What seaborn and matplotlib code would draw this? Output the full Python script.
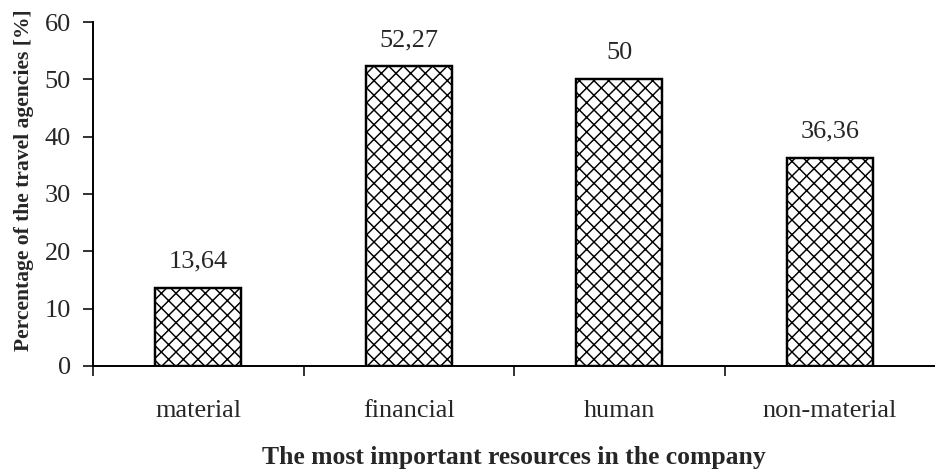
import matplotlib
matplotlib.use("Agg")
import matplotlib.pyplot as plt
import seaborn as sns
import pandas as pd
from matplotlib.ticker import FixedLocator

# ── DATA ──────────────────────────────────────────────────────────────────────
categories = ["material", "financial", "human", "non-material"]
percent    = [13.64, 52.27, 50.0, 36.36]
yticks     = [0, 10, 20, 30, 40, 50, 60]

DPI = 88   # lower dpi gives the tighter crosshatch of the original

sns.set_theme(style="white")
plt.rcParams["font.family"] = ["Liberation Serif", "DejaVu Serif"]
plt.rcParams["hatch.linewidth"] = 1.2

df = pd.DataFrame({"resource": categories, "pct": percent})

fig = plt.figure(figsize=(935 / DPI, 470 / DPI), dpi=DPI)
ax = fig.add_axes([93 / 935, 1 - 366 / 470, 1 - 93 / 935, (366 - 22) / 470])

sns.barplot(data=df, x="resource", y="pct", ax=ax, width=0.41,
            color="white", edgecolor="black", linewidth=2.0)
for p in ax.patches:
    p.set_hatch("xx")

# value labels, decimal comma
for i, v in enumerate(percent):
    lab = f"{v:g}".replace(".", ",")
    ax.text(i, v + 2.6, lab, ha="center", va="bottom", fontsize=21.5)

ax.set_xlim(-0.5, 3.5)
ax.set_ylim(0, 60)
ax.set_yticks(yticks)
ax.tick_params(axis="y", direction="out", length=8, width=1.5,
               labelsize=21.5, left=True, pad=10)
ax.tick_params(axis="x", which="major", length=0, labelsize=21.5, pad=28)
ax.xaxis.set_minor_locator(FixedLocator([-0.5, 0.5, 1.5, 2.5]))
ax.tick_params(axis="x", which="minor", direction="out", length=8,
               width=1.5, bottom=True)

sns.despine(ax=ax)
for s in ["left", "bottom"]:
    ax.spines[s].set_linewidth(1.6)
    ax.spines[s].set_color("black")

ax.set_xlabel("The most important resources in the company",
              fontsize=21, fontweight="bold")
ax.set_ylabel("Percentage of the travel agencies [%]",
              fontsize=17.7, fontweight="bold")
ax.xaxis.set_label_coords(0.50, -0.232)
ax.yaxis.set_label_coords(-0.07, 0.54)

fig.savefig("out.png", dpi=DPI)
